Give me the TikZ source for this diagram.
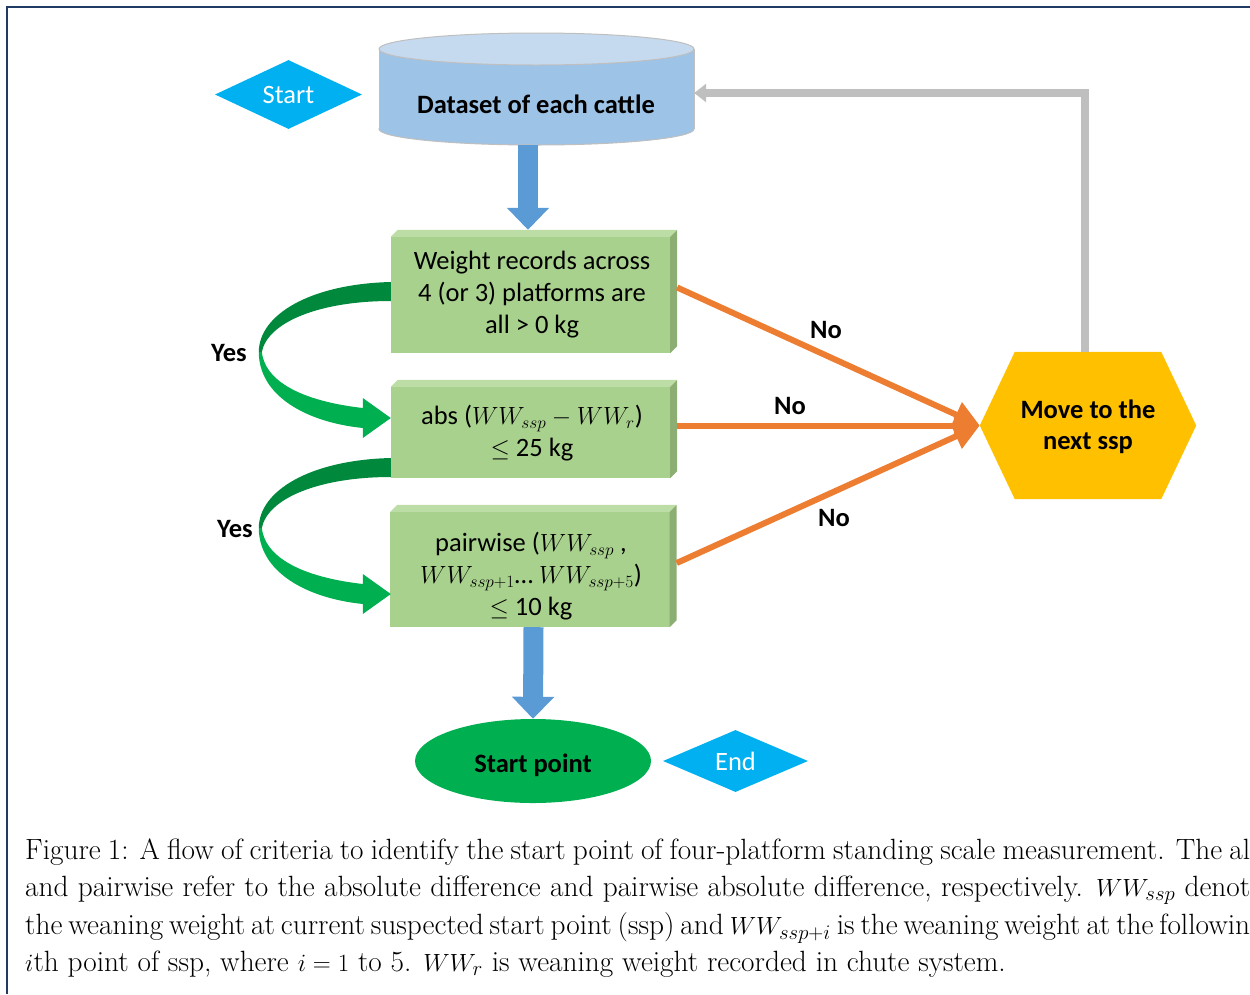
\documentclass[tikz,border=0pt]{standalone}
\usepackage{fontspec}
\newfontfamily\calib{Carlito}
\usetikzlibrary{shapes.geometric,arrows.meta,calc}
\pgfdeclarelayer{bg}
\pgfsetlayers{bg,main}
\definecolor{cyanD}{HTML}{00B0F0}
\definecolor{dbbody}{HTML}{9DC3E6}
\definecolor{dbtop}{HTML}{C5DAEF}
\definecolor{dbline}{HTML}{BFBFBF}
\definecolor{arrblue}{HTML}{5B9BD5}
\definecolor{boxfront}{HTML}{A9D18E}
\definecolor{boxtop}{HTML}{BCDDA5}
\definecolor{boxside}{HTML}{8CAE72}
\definecolor{orangeA}{HTML}{ED7D31}
\definecolor{hexfill}{HTML}{FFC000}
\definecolor{greenL}{HTML}{00B050}
\definecolor{greenD}{HTML}{00893D}
\definecolor{grayA}{HTML}{BFBFBF}
\definecolor{frameblue}{HTML}{1F3B64}
\newcommand\bevelbox[1]{%
  \fill[boxfront] (#1.south west) rectangle ($(#1.north east)+(-7,7)$);
  \fill[boxtop] ($(#1.north west)+(0,7)$) -- ($(#1.north west)+(7,0)$) -- (#1.north east) -- ($(#1.north east)+(-7,7)$) -- cycle;
  \fill[boxside] ($(#1.north east)+(-7,7)$) -- (#1.north east) -- ($(#1.south east)+(0,-7)$) -- ($(#1.south east)+(-7,0)$) -- cycle;
}
\tikzset{
  diam/.style={diamond, fill=cyanD, text=white, inner sep=0pt, font=\calib\fontsize{26.5}{30}\selectfont},
  box/.style={rectangle, minimum width=286pt, inner sep=0pt},
  boxtext/.style={inner sep=0pt, align=center, font=\calib\fontsize{26.5}{32}\selectfont},
  lbl/.style={font=\calib\bfseries\fontsize{26.5}{31}\selectfont, inner sep=0pt, align=center},
  bluefat/.style={color=arrblue, line width=20pt, -{Triangle[length=22pt,width=41pt]}},
  orangearr/.style={color=orangeA, line width=6pt, -{Triangle[length=26pt,width=26pt]}},
  grayarr/.style={color=grayA, line width=8pt, -{Triangle[length=12pt,width=18pt]}},
  capline/.style={anchor=base west, inner sep=0pt, font=\fontsize{29.3}{37.5}\selectfont},
  yescurve/.pic={
    \fill[greenD] (0,-9.5) .. controls (-81,-7.5) and (-132,23.5) .. (-132,60.5) -- (-129,60.5) .. controls (-123,30.5) and (-71,9.5) .. (0,9.5) -- cycle;
    \fill[greenL] (-132,60.5) .. controls (-132,103.5) and (-86,130.5) .. (-28,136.5) -- (-28,146.5) -- (0,126.5) -- (-28,106.5) -- (-28,116.5) .. controls (-81,110.5) and (-125,93.5) .. (-129,60.5) -- cycle;
  }
}
\begin{document}
\begin{tikzpicture}[x=1pt,y=-1pt]
\useasboundingbox (0,0) rectangle (1250,994);
\draw[frameblue, line width=2pt] (7,994) -- (7,7) -- (1250,7);

% cylinder
\fill[dbbody, draw=dbline, line width=1pt] (536.5,129) ellipse [x radius=157.5pt, y radius=16pt];
\fill[dbbody] (379,49) rectangle (694,129);
\draw[dbline, line width=1pt] (379,49) -- (379,129) (694,49) -- (694,129);
\fill[dbtop, draw=dbline, line width=1pt] (536.5,49) ellipse [x radius=157.5pt, y radius=16pt];
\node[minimum width=315pt, minimum height=112pt, inner sep=0pt] (db) at (536.5,89) {};
\node[lbl] (dbt) at (536,104) {Dataset of each cattle};

\node[diam, minimum width=147pt, minimum height=63pt] (start) at (288.5,94.5) {Start};
\node[diam, minimum width=145pt, minimum height=62pt] (end) at (735.5,761) {End};

\node[box, minimum height=123pt] (b1) at (534,291.5) {};
\node[box, minimum height=98pt] (b2) at (534,429) {};
\node[box, minimum height=122pt] (b3) at (533.5,566) {};
\node[boxtext] (t1) at (532,295) {Weight records across\\4 (or 3) platforms are\\all > 0 kg};
\node[boxtext] (t2) at (532,433) {abs ($WW_{ssp}-WW_r$)\\$\leq$ 25 kg};
\node[boxtext] (t3) at (531,576) {pairwise ($WW_{ssp}$ ,\\$WW_{ssp+1}$… $WW_{ssp+5}$)\\$\leq$ 10 kg};

\node[minimum width=216pt, minimum height=147pt, inner sep=0pt] (hex) at (1088,425.5) {};
\node[lbl] (hext) at (1088,427) {Move to the\\next ssp};
\node[ellipse, fill=greenL, minimum width=236pt, minimum height=84pt, inner sep=0pt] (sp) at (533,761) {};
\node[lbl] (spt) at (533,765) {Start point};

\begin{pgfonlayer}{bg}
  \bevelbox{b1}
  \bevelbox{b2}
  \bevelbox{b3}
  \fill[hexfill] (hex.west) -- ($(hex.north west)+(35,0)$) -- ($(hex.north east)+(-35,0)$) -- (hex.east) -- ($(hex.south east)+(-35,0)$) -- ($(hex.south west)+(35,0)$) -- cycle;
\end{pgfonlayer}

% connectors
\draw[bluefat] ([xshift=-8.5pt]db.south) -- ([xshift=-6pt]b1.north);
\draw[bluefat] (b3.south) -- (sp.north);
\draw[orangearr] ([yshift=4pt]b1.east) -- (hex.west);
\draw[orangearr] (b2.east |- hex.west) -- (hex.west);
\draw[orangearr] ([yshift=3pt]b3.east) -- (hex.west);
\draw[grayarr] ([xshift=-3pt]hex.north) |- ([yshift=-4pt]db.east);
\pic at (b1.west) {yescurve};
\pic at ([yshift=-176pt]b1.west) {yescurve};

\node[lbl] (no1) at (826,330) {No};
\node[lbl] (no2) at (790,406) {No};
\node[lbl] (no3) at (834,518) {No};
\node[lbl] (yes1) at (229,353) {Yes};
\node[lbl] (yes2) at (235,529) {Yes};

% caption
\node[capline] (c1) at (25,859) {\makebox[1225pt][s]{Figure 1: A flow of criteria to identify the start point of four-platform standing scale measurement. The al}};
\node[capline] (c2) at (25,896.5) {\makebox[1225pt][s]{and pairwise refer to the absolute difference and pairwise absolute difference, respectively. $WW_{ssp}$ denot}};
\node[capline] (c3) at (25,934) {\makebox[1225pt][s]{the weaning weight at current suspected start point (ssp) and $WW_{ssp+i}$ is the weaning weight at the followin}};
\node[capline] (c4) at (25,971.5) {$i$th point of ssp, where $i=1$ to 5. $WW_r$ is weaning weight recorded in chute system.};
\end{tikzpicture}
\end{document}
